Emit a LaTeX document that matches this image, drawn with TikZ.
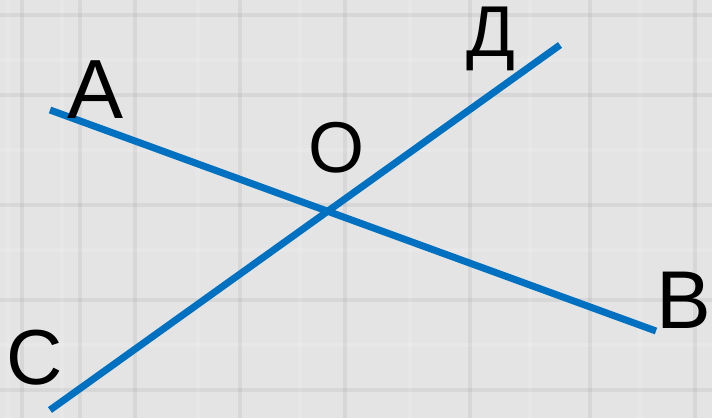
\documentclass[tikz,border=0pt]{standalone}
\usepackage{fontspec}
\setmainfont{Liberation Sans}
\usetikzlibrary{positioning}

\definecolor{lineblue}{HTML}{0070C0}
\definecolor{bggray}{HTML}{E4E4E4}

\begin{document}
\begin{tikzpicture}[
        x=1pt, y=-1pt,
        seg/.style={lineblue, line width=7pt},
        lbl/.style={inner sep=0pt, anchor=base, text=black},
        stripe/.style={line width=4pt, opacity=0.12}
    ]
        % background with faint plaid
        \fill[bggray] (0,0) rectangle (712,418);
        \useasboundingbox (0,0) rectangle (712,418);
        \foreach \x/\c in {8/white, 22/gray, 62/white, 80/gray, 135/gray, 198/white, 240/gray, 300/white, 345/gray, 410/white, 470/gray, 530/white, 590/gray, 640/white, 695/gray}
            \draw[stripe, \c] (\x,0) -- (\x,418);
        \foreach \y/\c in {15/gray, 60/white, 95/gray, 150/white, 205/gray, 250/white, 300/gray, 345/white, 390/gray}
            \draw[stripe, \c] (0,\y) -- (712,\y);

        % end points of the two lines
        \coordinate (a) at (50,110);
        \coordinate (b) at (656,331);
        \coordinate (c) at (50,410);
        \coordinate (d) at (560,45);

        \draw[seg] (a) -- (b);
        \draw[seg] (c) -- (d);

        % letters
        \node[lbl, font=\fontsize{84}{96}\selectfont] (lblA) at (96,118) {A};
        \node[lbl, font=\fontsize{72}{84}\selectfont] (lblD) at (491,56) {Д};
        \node[lbl, font=\fontsize{72}{84}\selectfont] (lblO) at (336,172) {O};
        \node[lbl, font=\fontsize{82}{94}\selectfont] (lblB) at (684,328) {B};
        \node[lbl, font=\fontsize{78}{90}\selectfont] (lblC) at (35,384) {C};
    \end{tikzpicture}
\end{document}
